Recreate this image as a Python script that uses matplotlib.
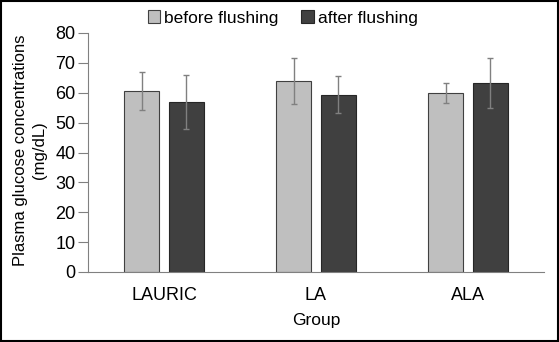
import matplotlib
matplotlib.use("Agg")
import matplotlib.pyplot as plt
import numpy as np

groups = ["LAURIC", "LA", "ALA"]
before = [60.5, 63.9, 59.9]
after = [56.9, 59.3, 63.2]
before_err = [6.3, 7.7, 3.4]
after_err = [9.0, 6.2, 8.3]

plt.rcParams['font.family'] = ['Liberation Sans', 'DejaVu Sans']

fig = plt.figure(figsize=(5.59, 3.42), dpi=100)
ax = fig.add_axes([88/559, 1 - 272/342, 456/559, 239/342])

x = np.arange(len(groups))
w = 0.23
ekw = dict(ecolor='#808080', elinewidth=1, capsize=2.5, capthick=1)
ax.bar(x - 0.145, before, w, yerr=before_err, color='#bfbfbf',
       edgecolor='#404040', linewidth=0.8, error_kw=ekw, label='before flushing')
ax.bar(x + 0.145, after, w, yerr=after_err, color='#404040',
       edgecolor='#262626', linewidth=0.8, error_kw=ekw, label='after flushing')

ax.set_xlim(-0.5, 2.5)
ax.set_ylim(0, 80)
ax.set_yticks(range(0, 81, 10))
ax.set_xticks(x)
ax.set_xticklabels(groups)
ax.tick_params(axis='x', length=0, pad=11, labelsize=13)
ax.tick_params(axis='y', length=7, width=0.8, color='#808080', labelsize=13, pad=2)
for s in ['top', 'right']:
    ax.spines[s].set_visible(False)
for s in ['left', 'bottom']:
    ax.spines[s].set_color('#808080')
    ax.spines[s].set_linewidth(0.8)

ax.set_xlabel('Group', fontsize=12.5, labelpad=6)
ax.set_ylabel('Plasma glucose concentrations\n(mg/dL)', fontsize=12, linespacing=1.35)
ax.yaxis.set_label_coords(-0.09, 0.51)

fig.legend(loc='upper center', bbox_to_anchor=(0.506, 1.0), ncol=2, frameon=False,
           fontsize=12.5, handlelength=0.7, handleheight=0.7, handletextpad=0.25,
           columnspacing=1.3, borderaxespad=0.2)

# figure border
fig.patches.append(plt.Rectangle((0.002, 0.003), 0.996, 0.994, transform=fig.transFigure,
                                 fill=False, edgecolor='black', linewidth=1.5))

fig.savefig('out.png', dpi=100)
